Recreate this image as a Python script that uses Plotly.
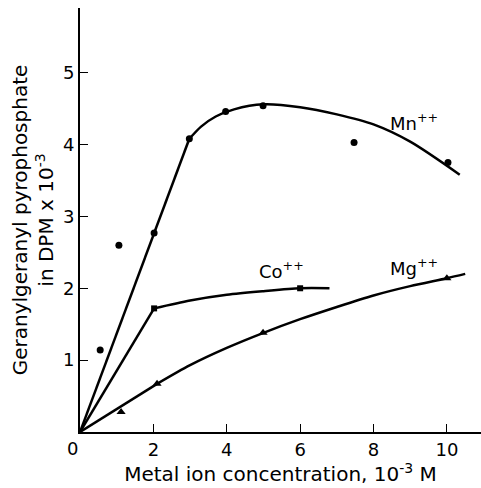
import plotly.graph_objects as go

# measured points
mn_x = [0.55, 1.06, 2.02, 2.98, 3.97, 4.99, 7.47, 10.03]
mn_y = [1.14, 2.60, 2.77, 4.08, 4.46, 4.54, 4.03, 3.75]
co_x = [2.02, 6.0]
co_y = [1.72, 2.0]
mg_x = [1.12, 2.1, 4.99, 10.0]
mg_y = [0.28, 0.67, 1.38, 2.14]

# drawn curves: straight initial part + smooth part
mn_sx = [0, 2.98]
mn_sy = [0, 4.08]
mn_cx = [2.98, 3.3, 3.7, 4.2, 5.0, 6.0, 7.0, 8.0, 9.0, 10.35]
mn_cy = [4.08, 4.25, 4.39, 4.49, 4.56, 4.52, 4.42, 4.28, 4.04, 3.58]
co_sx = [0, 2.02]
co_sy = [0, 1.72]
co_cx = [2.02, 3.0, 4.0, 5.0, 6.0, 6.8]
co_cy = [1.72, 1.83, 1.91, 1.96, 2.0, 2.0]
mg_sx = [0, 2.1]
mg_sy = [0, 0.67]
mg_cx = [2.1, 3.0, 4.0, 5.0, 6.0, 7.0, 8.0, 9.0, 10.0, 10.5]
mg_cy = [0.67, 0.93, 1.17, 1.38, 1.57, 1.74, 1.90, 2.03, 2.14, 2.2]

x_ticks = [2, 4, 6, 8, 10]
y_ticks = [1, 2, 3, 4, 5]

labels = [("Mn<sup>++</sup>", 9.1, 4.32), ("Co<sup>++</sup>", 5.5, 2.25), ("Mg<sup>++</sup>", 9.1, 2.29)]

FONT = "DejaVu Sans"
fig = go.Figure()
for sx, sy, cx, cy in [(mn_sx, mn_sy, mn_cx, mn_cy), (co_sx, co_sy, co_cx, co_cy),
                       (mg_sx, mg_sy, mg_cx, mg_cy)]:
    fig.add_trace(go.Scatter(x=sx, y=sy, mode="lines",
                             line=dict(color="black", width=2.5), hoverinfo="skip"))
    fig.add_trace(go.Scatter(x=cx, y=cy, mode="lines",
                             line=dict(color="black", width=2.5, shape="spline", smoothing=0.8),
                             hoverinfo="skip"))
fig.add_trace(go.Scatter(x=mn_x, y=mn_y, mode="markers",
                         marker=dict(symbol="circle", size=7, color="black")))
fig.add_trace(go.Scatter(x=co_x, y=co_y, mode="markers",
                         marker=dict(symbol="square", size=6, color="black")))
fig.add_trace(go.Scatter(x=mg_x, y=mg_y, mode="markers",
                         marker=dict(symbol="triangle-up", size=8, color="black")))

for t, x, y in labels:
    fig.add_annotation(x=x, y=y, text=t, showarrow=False,
                       font=dict(family=FONT, size=18, color="black"))

fig.update_layout(
    width=481, height=488,
    margin=dict(l=80, r=0, t=8, b=56),
    plot_bgcolor="white", paper_bgcolor="white",
    showlegend=False,
    font=dict(family=FONT, size=18, color="black"),
)
fig.update_xaxes(range=[0, 10.93], tickvals=x_ticks, ticks="inside", ticklen=8,
                 tickcolor="black", showline=True, linecolor="black", linewidth=2,
                 showgrid=False, zeroline=False,
                 title=dict(text="Metal ion concentration, 10<sup>-3</sup> M", standoff=3,
                            font=dict(family=FONT, size=20)),
                 tickfont=dict(family=FONT, size=18))
fig.update_yaxes(range=[0, 5.9], tickvals=y_ticks, ticks="inside", ticklen=8,
                 tickcolor="black", showline=True, linecolor="black", linewidth=2,
                 showgrid=False, zeroline=False,
                 title=dict(text="Geranylgeranyl pyrophosphate<br>in DPM x 10<sup>-3</sup>", standoff=4,
                            font=dict(family=FONT, size=20)),
                 tickfont=dict(family=FONT, size=18))
fig.add_annotation(x=0, y=0, xref="x", yref="y", text="0", showarrow=False,
                   xshift=-8, yshift=-16, font=dict(family=FONT, size=18))

fig.write_html("out.html")
